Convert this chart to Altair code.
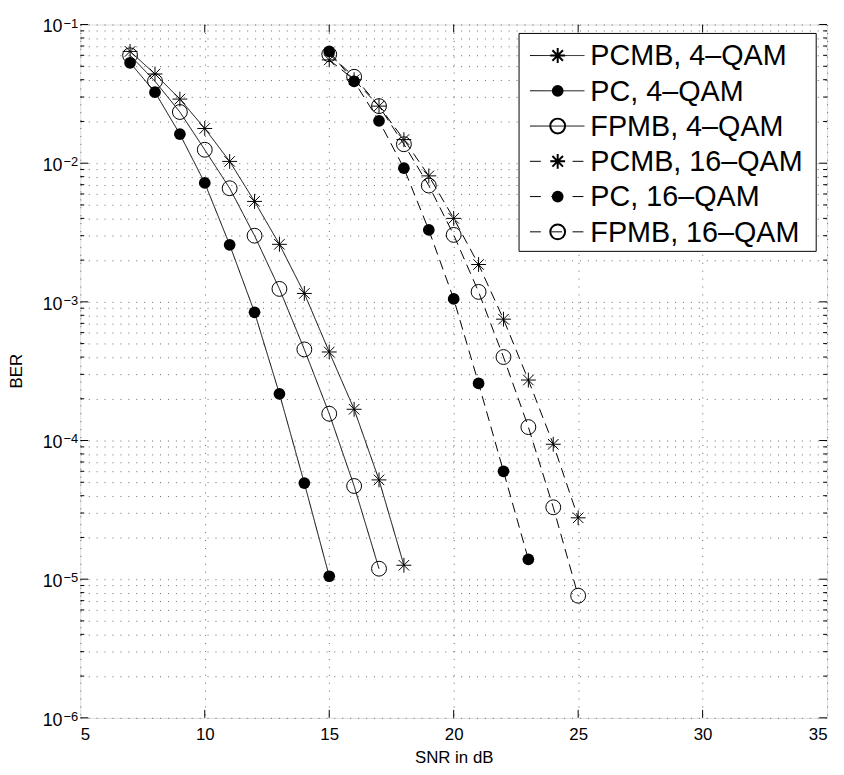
import altair as alt
import pandas as pd

# ---------------- data ----------------
snr_pcmb4 = [7, 8, 9, 10, 11, 12, 13, 14, 15, 16, 17, 18]
ber_pcmb4 = [0.064, 0.044, 0.029, 0.0178, 0.0103, 0.0053, 0.0026, 0.00115, 0.000435, 0.000168, 5.2e-5, 1.26e-5]
snr_pc4 = [7, 8, 9, 10, 11, 12, 13, 14, 15]
ber_pc4 = [0.053, 0.0325, 0.0162, 0.0072, 0.00258, 0.00084, 0.000217, 4.93e-5, 1.05e-5]
snr_fpmb4 = [7, 8, 9, 10, 11, 12, 13, 14, 15, 16, 17]
ber_fpmb4 = [0.060, 0.039, 0.0234, 0.0125, 0.0066, 0.0030, 0.00124, 0.000454, 0.000156, 4.7e-5, 1.19e-5]
snr_pcmb16 = [15, 16, 17, 18, 19, 20, 21, 22, 23, 24, 25]
ber_pcmb16 = [0.0556, 0.040, 0.0258, 0.0148, 0.0081, 0.0040, 0.00186, 0.00075, 0.000273, 9.4e-5, 2.77e-5]
snr_pc16 = [15, 16, 17, 18, 19, 20, 21, 22, 23]
ber_pc16 = [0.064, 0.0389, 0.0202, 0.0092, 0.0033, 0.00105, 0.000258, 6.0e-5, 1.39e-5]
snr_fpmb16 = [15, 16, 17, 18, 19, 20, 21, 22, 23, 24, 25]
ber_fpmb16 = [0.061, 0.042, 0.0258, 0.0137, 0.0069, 0.00304, 0.00118, 0.0004, 0.000125, 3.3e-5, 7.6e-6]

series_names = ["PCMB, 4\u2013QAM", "PC, 4\u2013QAM", "FPMB, 4\u2013QAM",
                "PCMB, 16\u2013QAM", "PC, 16\u2013QAM", "FPMB, 16\u2013QAM"]
series_marker = ["star", "dot", "ring", "star", "dot", "ring"]
series_dashed = [False, False, False, True, True, True]

x_ticks = [5, 10, 15, 20, 25, 30, 35]
y_decades = [1e-6, 1e-5, 1e-4, 1e-3, 1e-2, 1e-1]
y_exponents = ["\u22126", "\u22125", "\u22124", "\u22123", "\u22122", "\u22121"]
y_minor = [m * d for d in [1e-6, 1e-5, 1e-4, 1e-3, 1e-2] for m in range(2, 10)]

xs = [snr_pcmb4, snr_pc4, snr_fpmb4, snr_pcmb16, snr_pc16, snr_fpmb16]
ys = [ber_pcmb4, ber_pc4, ber_fpmb4, ber_pcmb16, ber_pc16, ber_fpmb16]

rows = []
for name, mk, da, xv, yv in zip(series_names, series_marker, series_dashed, xs, ys):
    for a, b in zip(xv, yv):
        rows.append({"series": name, "marker": mk, "dashed": "d" if da else "s", "snr": a, "ber": b})
df = pd.DataFrame(rows)

W, H = 754, 700
FONT = "Liberation Sans"
STAR = "M0,-1L0,1M-1,0L1,0M-0.71,-0.71L0.71,0.71M-0.71,0.71L0.71,-0.71"
GRID = "#666"

xscale = alt.Scale(domain=[5, 35], nice=False, zero=False)
yscale = alt.Scale(type="log", domain=[1e-6, 1e-1], nice=False)

base = alt.Chart(df)

X = alt.X("snr:Q", scale=xscale,
          axis=alt.Axis(values=x_ticks, grid=True, gridDash=[1, 7], gridColor=GRID,
                        gridOpacity=1, ticks=False, domain=False, labelFont=FONT,
                        labelFontSize=17, labelColor="black", labelPadding=9,
                        title="SNR in dB", titleFont=FONT, titleFontSize=17,
                        titleFontWeight="normal", titleColor="black", titlePadding=7))
Y = alt.Y("ber:Q", scale=yscale,
          axis=alt.Axis(values=y_decades + y_minor, grid=True, gridDash=[1, 7],
                        gridColor=GRID, gridOpacity=1, ticks=False, domain=False,
                        labels=False, title=None))

lines = base.mark_line(color="black", strokeWidth=1).encode(
    x=X, y=Y, detail="series:N",
    strokeDash=alt.StrokeDash("dashed:N", scale=alt.Scale(domain=["s", "d"], range=[[1, 0], [10, 6]]),
                              legend=None))

stars = base.transform_filter(alt.datum.marker == "star").mark_point(
    shape=STAR, size=225, color="black", strokeWidth=1, filled=False, opacity=1).encode(
    x="snr:Q", y="ber:Q")
dots = base.transform_filter(alt.datum.marker == "dot").mark_point(
    shape="circle", size=140, color="black", filled=True, opacity=1).encode(
    x="snr:Q", y="ber:Q")
rings = base.transform_filter(alt.datum.marker == "ring").mark_point(
    shape="circle", size=225, color="black", strokeWidth=1, filled=False, opacity=1).encode(
    x="snr:Q", y="ber:Q")

# inward ticks
maj_df = pd.DataFrame({"ber": y_decades})
min_df = pd.DataFrame({"ber": y_minor})
xt_df = pd.DataFrame({"snr": x_ticks[1:-1]})
tk = dict(color="black", strokeWidth=1)
ticks = [
    alt.Chart(maj_df).mark_rule(**tk).encode(y="ber:Q", x=alt.value(0), x2=alt.value(8)),
    alt.Chart(maj_df).mark_rule(**tk).encode(y="ber:Q", x=alt.value(W - 8), x2=alt.value(W)),
    alt.Chart(min_df).mark_rule(**tk).encode(y="ber:Q", x=alt.value(0), x2=alt.value(4)),
    alt.Chart(min_df).mark_rule(**tk).encode(y="ber:Q", x=alt.value(W - 4), x2=alt.value(W)),
    alt.Chart(xt_df).mark_rule(**tk).encode(x="snr:Q", y=alt.value(H - 8), y2=alt.value(H)),
    alt.Chart(xt_df).mark_rule(**tk).encode(x="snr:Q", y=alt.value(0), y2=alt.value(8)),
]

# y tick labels 10^k
lab_df = pd.DataFrame({"ber": y_decades, "exp": y_exponents})
ylab_base = alt.Chart(lab_df).mark_text(align="right", baseline="alphabetic", dy=8,
                                         font=FONT, fontSize=18, color="black").encode(
    y="ber:Q", x=alt.value(-18), text=alt.value("10"))
ylab_exp = alt.Chart(lab_df).mark_text(align="left", baseline="alphabetic", dy=3,
                                        font=FONT, fontSize=13, color="black").encode(
    y="ber:Q", x=alt.value(-17), text="exp:N")
ytitle = alt.Chart(pd.DataFrame({"a": [0]})).mark_text(
    angle=270, font=FONT, fontSize=17, color="black", baseline="middle", align="center").encode(
    x=alt.value(-64), y=alt.value(H / 2), text=alt.value("BER"))

# legend
one = pd.DataFrame({"a": [0]})
leg_layers = [
    alt.Chart(one).mark_rect(fill="white", stroke="black", strokeWidth=1).encode(
        x=alt.value(443), x2=alt.value(743), y=alt.value(9), y2=alt.value(229))
]
for i, (name, mk, da) in enumerate(zip(series_names, series_marker, series_dashed)):
    yy = 31.3 + i * 35.6
    leg_layers.append(alt.Chart(one).mark_rule(
        color="black", strokeWidth=1, strokeDash=[11, 10.5] if da else [1, 0]).encode(
        x=alt.value(454), x2=alt.value(509), y=alt.value(yy)))
    if mk == "star":
        m = alt.Chart(one).mark_point(shape=STAR, size=225, color="black", filled=False, opacity=1)
    elif mk == "dot":
        m = alt.Chart(one).mark_point(shape="circle", size=140, color="black", filled=True, opacity=1)
    else:
        m = alt.Chart(one).mark_point(shape="circle", size=225, color="black", filled=False, opacity=1)
    leg_layers.append(m.encode(x=alt.value(482), y=alt.value(yy)))
    leg_layers.append(alt.Chart(one).mark_text(
        align="left", baseline="middle", font=FONT, fontSize=29, color="black", dy=1).encode(
        x=alt.value(515), y=alt.value(yy), text=alt.value(name)))

chart = alt.layer(lines, stars, dots, rings, *ticks, ylab_base, ylab_exp, ytitle, *leg_layers).properties(
    width=W, height=H,
    autosize=alt.AutoSizeParams(type="none"),
    padding={"left": 73, "top": 13, "right": 9, "bottom": 52},
).configure_view(stroke="black", strokeWidth=1.2).configure(background="white")

chart.save("out.html", embed_options={"renderer": "svg", "actions": False})
